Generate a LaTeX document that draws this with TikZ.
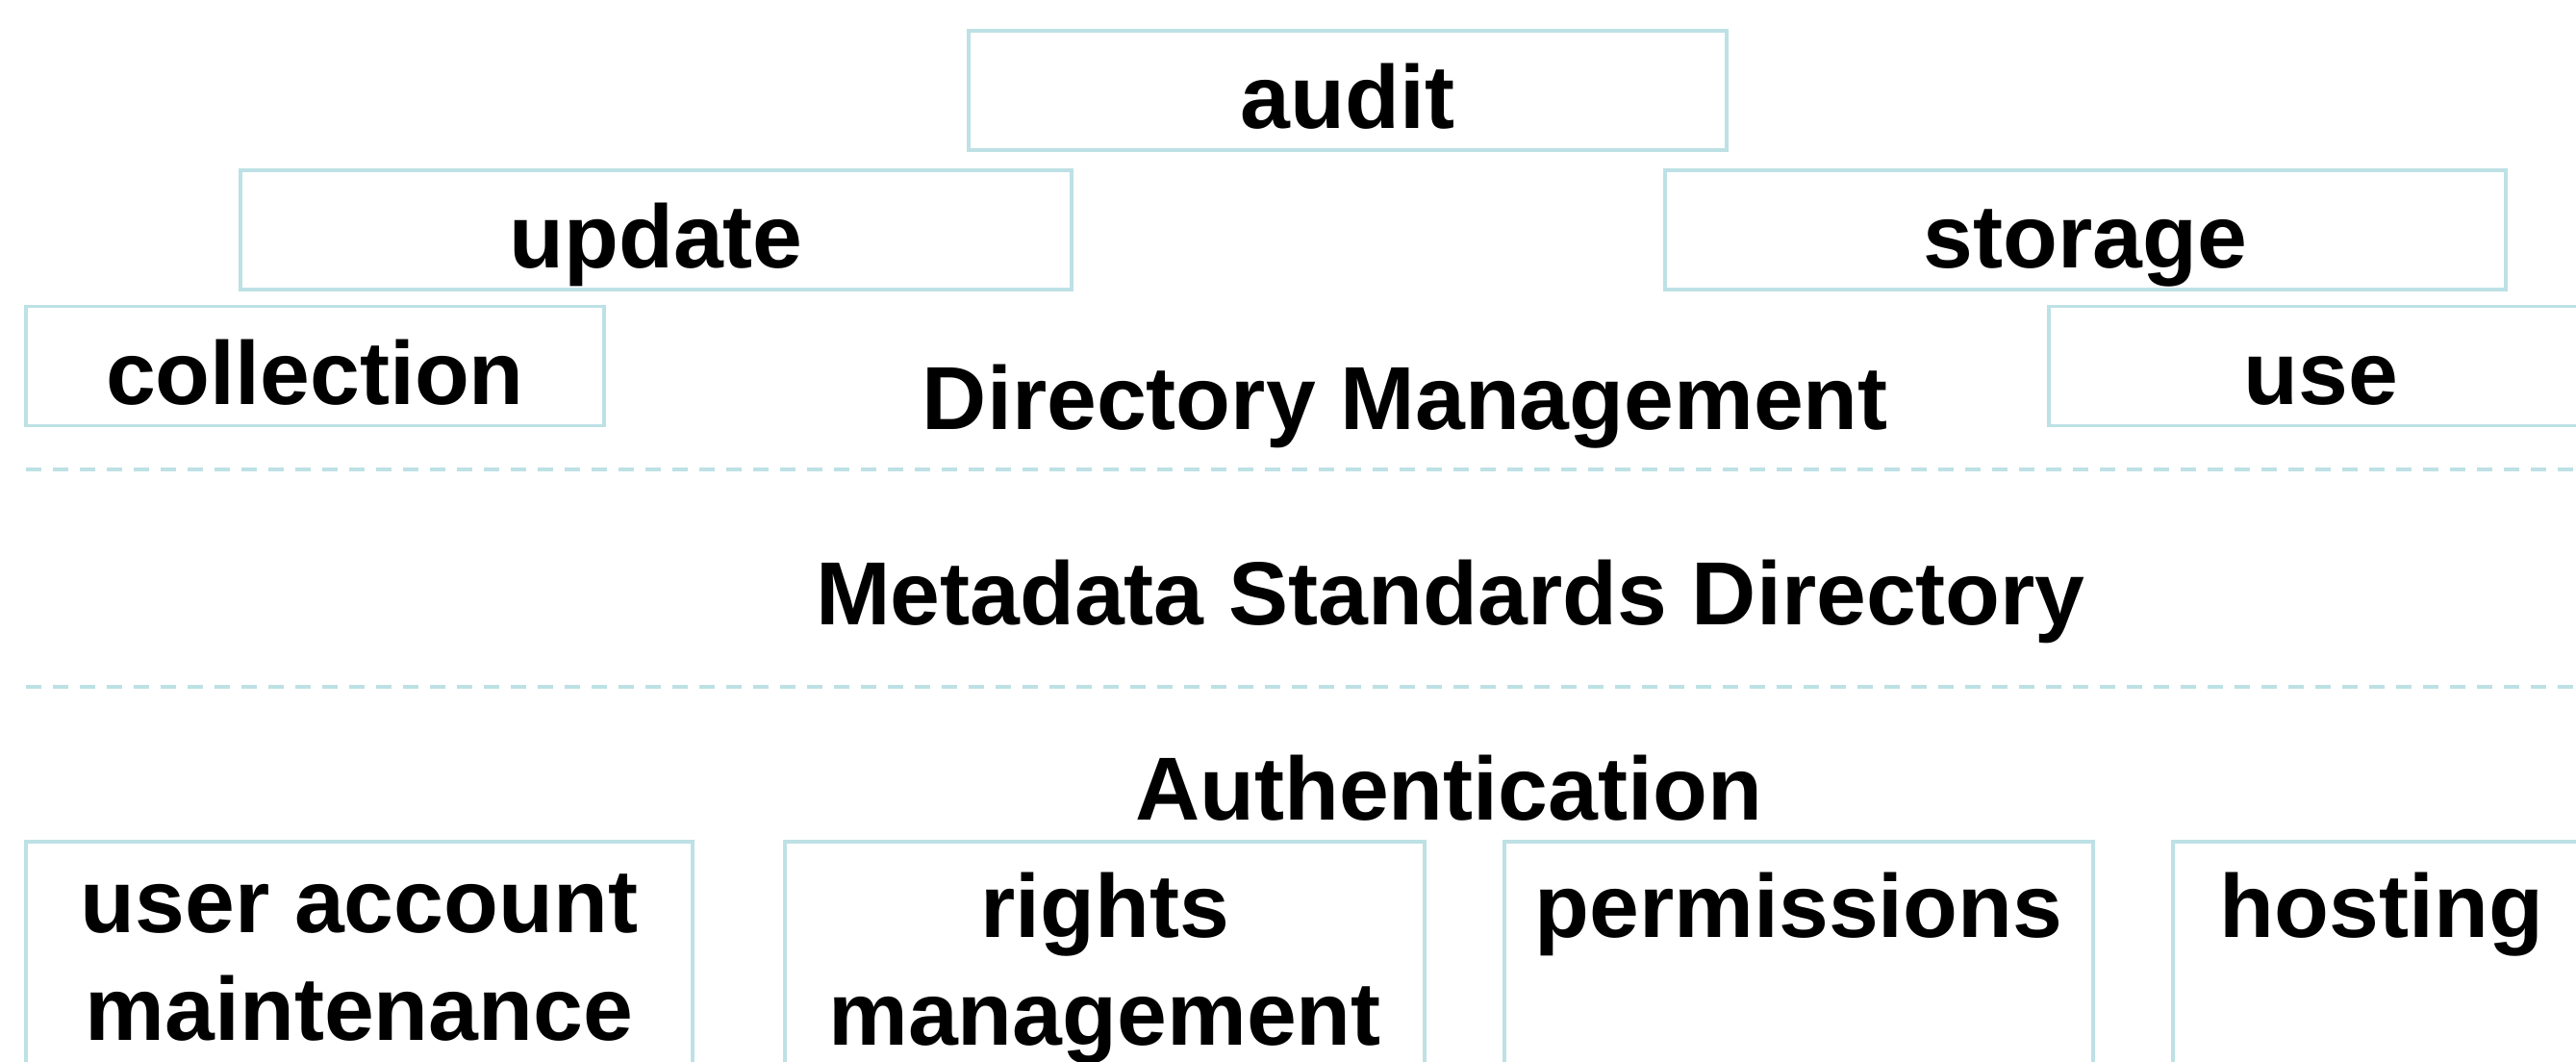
\documentclass[tikz,border=0pt]{standalone}
\usepackage{fontspec}
\setmainfont{Liberation Sans}
\usetikzlibrary{positioning,calc}
\definecolor{boxTeal}{RGB}{189,225,229}
\newcommand{\bigLabel}{\fontsize{26.5}{31.9}\selectfont\bfseries}
\tikzset{
  stageBox/.style={draw=boxTeal,line width=0.37mm,inner sep=0pt,minimum height=12.4mm,
    text height=8mm,text depth=0mm,font=\bigLabel},
  layerText/.style={font=\bigLabel,inner sep=0pt,anchor=base},
  serviceBox/.style={draw=boxTeal,line width=0.37mm,inner sep=0pt,minimum height=30mm,anchor=north},
  serviceText/.style={font=\bigLabel,align=center,inner sep=0pt,anchor=north},
  layerRule/.style={draw=boxTeal,line width=0.4mm,dash pattern=on 1.6mm off 1.2mm},
}
\begin{document}
\begin{tikzpicture}

\useasboundingbox (0,0) rectangle (26.78,-11.04);
\clip (0,0) rectangle (26.78,-11.04);

% ===== Directory management stages =====
\node[stageBox, minimum width=78.8mm] (audit) at (14.01,-0.94) {audit};
\node[stageBox, minimum width=86.4mm] (update) at (6.82,-2.39) {update};
\node[stageBox, minimum width=87.4mm] (storage) at (21.68,-2.39) {storage};
\node[stageBox, minimum width=60.1mm] (collection) at (3.275,-3.805) {collection};
\node[stageBox, minimum width=56.6mm] (use) at (24.13,-3.805) {use};
\node[layerText] (dirMgmt) at (14.61,-4.47) {Directory Management};

% ===== Layer separators =====
\coordinate (ruleAL) at (0.27,-4.88);
\coordinate (ruleAR) at (27.0,-4.88);
\coordinate (ruleBL) at (0.27,-7.14);
\coordinate (ruleBR) at (27.0,-7.14);
\draw[layerRule] (ruleAL) -- (ruleAR);
\draw[layerRule] (ruleBL) -- (ruleBR);

\node[layerText] (mdsd) at (15.08,-6.50) {Metadata Standards Directory};

% ===== Authentication services =====
\node[layerText] (authn) at (15.06,-8.53) {Authentication};
\node[serviceBox, minimum width=69.3mm] (userBox) at (3.735,-8.73) {};
\node[serviceBox, minimum width=66.5mm] (rightsBox) at (11.485,-8.73) {};
\node[serviceBox, minimum width=61.2mm] (permBox) at (18.70,-8.73) {};
\node[serviceBox, minimum width=43.4mm] (hostBox) at (24.76,-8.73) {};
\node[serviceText] (userTxt) at ($(userBox.north)+(0,-3.5mm)$) {user account\\maintenance};
\node[serviceText] (rightsTxt) at ($(rightsBox.north)+(0,-3.3mm)$) {rights\\management};
\node[serviceText] (permTxt) at ($(permBox.north)+(0,-3.3mm)$) {permissions};
\node[serviceText] (hostTxt) at ($(hostBox.north)+(0,-3.3mm)$) {hosting};

\end{tikzpicture}
\end{document}
